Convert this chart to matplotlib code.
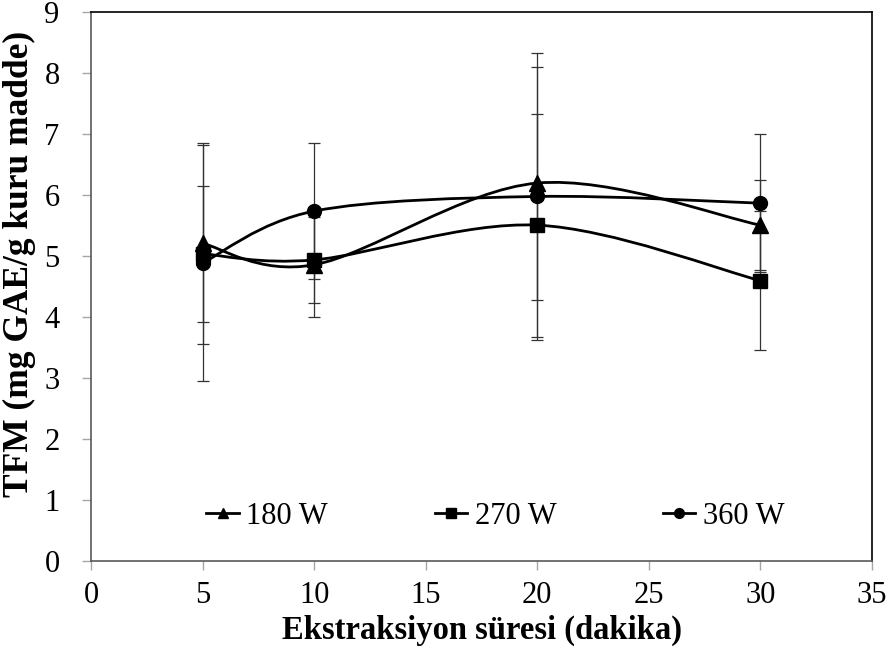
import matplotlib
matplotlib.use('Agg')
from matplotlib import pyplot as plt
from matplotlib.path import Path
from matplotlib.patches import PathPatch

plt.rcParams['font.family'] = ['Liberation Serif', 'DejaVu Serif']

time_min = [5, 10, 20, 30]
labels = ['180 W', '270 W', '360 W']
markers = ['^', 's', 'o']
tfm_180 = [5.20, 4.85, 6.19, 5.50]
tfm_270 = [5.03, 4.93, 5.50, 4.59]
tfm_360 = [4.88, 5.73, 5.97, 5.86]
err_180 = [1.65, 0.86, 1.91, 0.74]
err_270 = [1.12, 0.71, 1.83, 1.14]
err_360 = [1.93, 1.11, 2.35, 1.13]

series = [tfm_180, tfm_270, tfm_360]
errors = [err_180, err_270, err_360]


def smooth_path(xs, ys):
    # Excel style smoothed line: cubic bezier through the points
    pts = list(zip(xs, ys))
    verts = [pts[0]]
    codes = [Path.MOVETO]
    n = len(pts)
    for i in range(n - 1):
        p0 = pts[max(i - 1, 0)]
        p1 = pts[i]
        p2 = pts[i + 1]
        p3 = pts[min(i + 2, n - 1)]
        c1 = (p1[0] + (p2[0] - p0[0]) / 6, p1[1] + (p2[1] - p0[1]) / 6)
        c2 = (p2[0] - (p3[0] - p1[0]) / 6, p2[1] - (p3[1] - p1[1]) / 6)
        verts += [c1, c2, p2]
        codes += [Path.CURVE4] * 3
    return Path(verts, codes)


fig = plt.figure(figsize=(8.92, 6.62), dpi=100)
ax = fig.add_axes([0.102, 0.1533, 0.8756, 0.829])

handles = []
for ys, err, lab, mk in zip(series, errors, labels, markers):
    ax.errorbar(time_min, ys, yerr=err, fmt='none', ecolor='#333333',
                elinewidth=0.9, capsize=4, capthick=0.9, zorder=1)
    ax.add_patch(PathPatch(smooth_path(time_min, ys), facecolor='none',
                           edgecolor='black', linewidth=2, zorder=2))
    ms = 11 if mk == '^' else 10
    ax.plot(time_min, ys, linestyle='none', marker=mk, color='black',
            markersize=ms, zorder=3)
    handles.append(plt.Line2D([], [], color='black', linewidth=2, marker=mk,
                              markersize=7 if mk != 's' else 6.5, label=lab))

ax.set_xlim(0, 35)
ax.set_ylim(0, 9)
ax.set_xticks(range(0, 36, 5))
ax.set_yticks(range(0, 10))

for side in ['left', 'bottom']:
    ax.spines[side].set_color('#595959')
    ax.spines[side].set_linewidth(1.2)
for side in ['top', 'right']:
    ax.spines[side].set_color('black')
    ax.spines[side].set_linewidth(1.2)

ax.tick_params(axis='both', direction='out', length=6.5, width=1,
               color='#a6a6a6', labelsize=22)
ax.tick_params(axis='y', pad=16)
ax.tick_params(axis='x', pad=8)

ax.set_xlabel('Ekstraksiyon süresi (dakika)', fontsize=23.5, fontweight='bold',
              labelpad=4)
ax.set_ylabel('TFM (mg GAE/g kuru madde)', fontsize=25.5, fontweight='bold')
ax.yaxis.set_label_coords(-0.071, 0.54)

ax.legend(handles=handles, loc='center', bbox_to_anchor=(0.518, 0.08),
          ncol=3, frameon=False, fontsize=22, handlelength=1.05,
          handletextpad=0.25, columnspacing=3.5, borderpad=0)

fig.savefig('out.png', dpi=100)
